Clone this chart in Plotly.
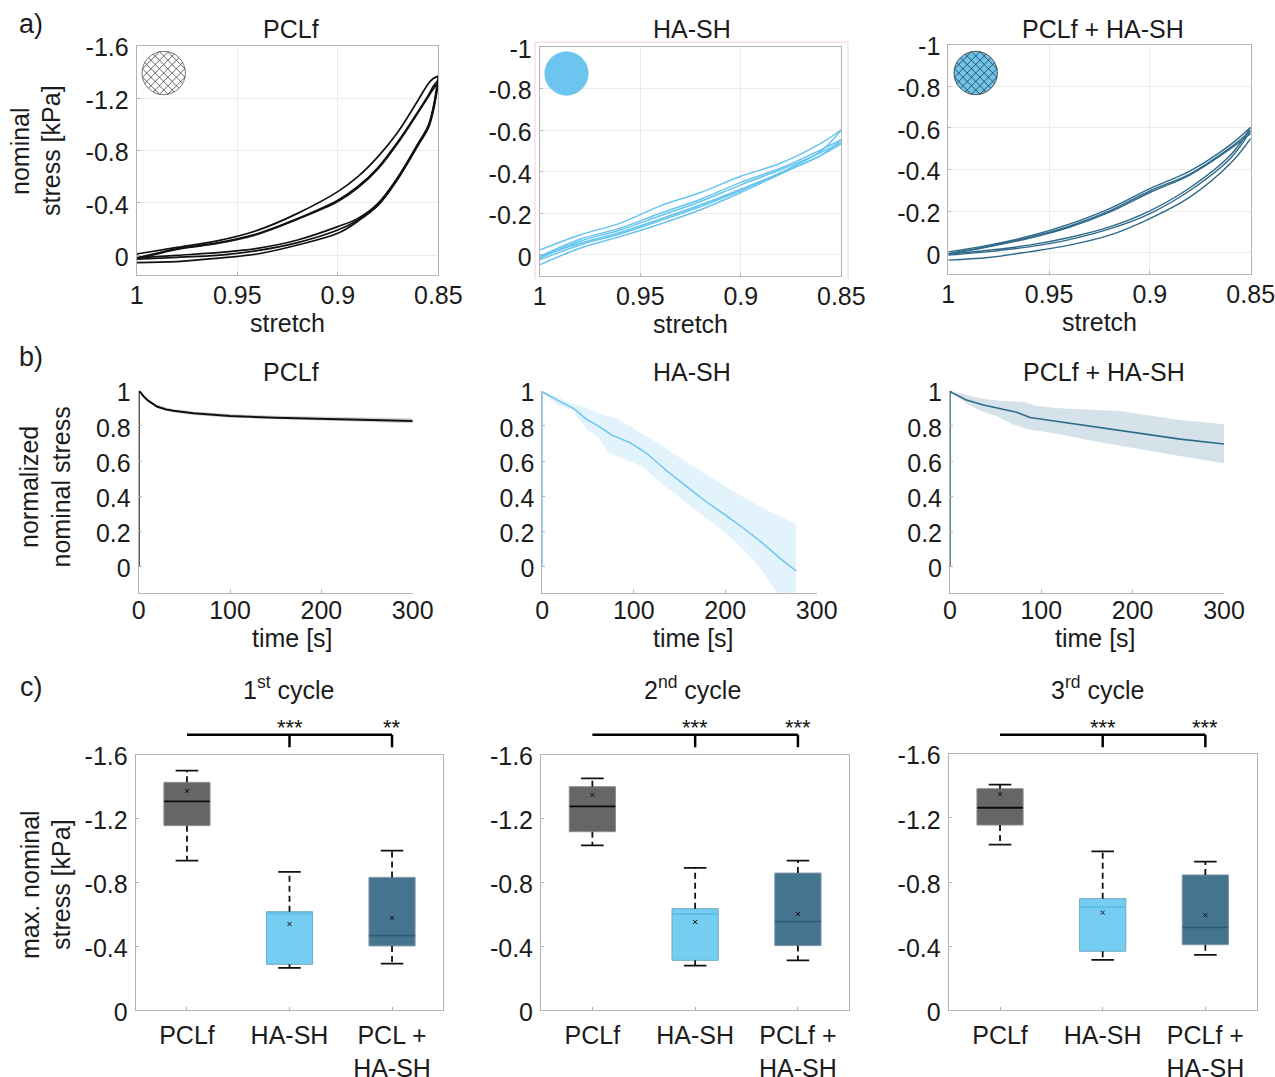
import math
import plotly.graph_objects as go

W, H = 1275, 1077

# ---------- row a: stretch / nominal stress loops ----------
STRETCH_A1 = [1, .98, .96, .94, .92, .90, .89, .88, .87, .86, .855, .8525, .85]
PCL_LOAD1 = [-.01, -.06, -.11, -.19, -.32, -.486, -.60, -.753, -.943, -1.185, -1.31, -1.35, -1.368]
PCL_LOAD2 = [.02, -.05, -.095, -.165, -.28, -.42, -.525, -.67, -.87, -1.10, -1.22, -1.29, -1.335]
PCL_LOAD3 = [.03, -.045, -.09, -.16, -.275, -.41, -.515, -.66, -.86, -1.09, -1.21, -1.27, -1.32]
PCL_UNLOAD1 = [.02, 0, -.02, -.053, -.117, -.219, -.282, -.397, -.60, -.855, -.99, -1.13, -1.368]
PCL_UNLOAD2 = [.03, .015, 0, -.036, -.097, -.193, -.27, -.385, -.59, -.85, -.98, -1.12, -1.335]
PCL_UNLOAD3 = [.056, .048, .023, -.01, -.079, -.168, -.26, -.38, -.585, -.84, -.97, -1.10, -1.32]

STRETCH_A2 = [1, .98, .96, .94, .92, .90, .88, .86, .85]
HA_LOAD1 = [-.024, -.096, -.153, -.236, -.30, -.378, -.442, -.538, -.602]
HA_LOAD2 = [.008, -.075, -.129, -.20, -.268, -.349, -.418, -.506, -.554]
HA_LOAD3 = [.016, -.066, -.12, -.188, -.257, -.337, -.41, -.493, -.541]
HA_UNLOAD1 = [.008, -.056, -.108, -.173, -.241, -.316, -.397, -.50, -.602]
HA_UNLOAD2 = [.024, -.048, -.101, -.165, -.233, -.31, -.394, -.48, -.554]
HA_UNLOAD3 = [.048, -.032, -.088, -.149, -.217, -.30, -.39, -.479, -.535]

STRETCH_A3 = [1, .98, .96, .94, .92, .90, .88, .86, .85]
MIX_LOAD1 = [-.005, -.037, -.08, -.138, -.213, -.309, -.394, -.52, -.603]
MIX_LOAD2 = [.003, -.032, -.074, -.128, -.202, -.298, -.38, -.507, -.587]
MIX_LOAD3 = [.006, -.029, -.07, -.123, -.196, -.29, -.375, -.50, -.574]
MIX_UNLOAD1 = [.006, -.013, -.037, -.074, -.125, -.202, -.314, -.47, -.603]
MIX_UNLOAD2 = [.011, -.006, -.029, -.064, -.115, -.189, -.301, -.455, -.587]
MIX_UNLOAD3 = [.035, .022, -.005, -.037, -.085, -.165, -.269, -.43, -.55]

# ---------- row b: relaxation ----------
PCL_T = [0, 0, 3, 5, 10, 15, 20, 30, 38, 60, 80, 100, 150, 200, 250, 300]
PCL_V = [0, 1, .985, .97, .945, .925, .91, .893, .886, .872, .862, .856, .846, .84, .834, .828]
PCL_BAND_T = [0, 10, 20, 38, 60, 100, 150, 200, 250, 300]
PCL_UP = [1, .952, .918, .896, .882, .868, .858, .852, .847, .843]
PCL_LO = [1, .938, .902, .876, .862, .846, .836, .83, .823, .815]

HA_T = [0, 0, 17.5, 34, 48.5, 61, 76, 96, 114, 136, 158, 180, 200, 220, 242, 260, 277.5]
HA_V = [0, .994, .943, .90, .837, .80, .748, .705, .644, .545, .455, .366, .294, .218, .129, .047, -.025]
HA_UP_T = [0, 17.5, 34, 48.5, 63, 81, 100, 121, 143, 169, 200, 224, 249, 277.5]
HA_UP = [1, .962, .924, .905, .867, .843, .786, .72, .644, .559, .455, .383, .3125, .242]
HA_LO_T = [0, 17.5, 34, 48.5, 61, 72, 92, 110, 132, 158, 187, 209, 231, 245, 256, 277.5]
HA_LO = [.989, .919, .886, .777, .739, .648, .606, .568, .464, .36, .246, .152, .038, -.057, -.142, -.34]

MIX_T = [0, 0, 2, 18, 36.5, 55, 73, 87.6, 102, 131, 160.6, 190, 219, 252, 300]
MIX_V = [0, 1, .989, .947, .919, .896, .877, .848, .837, .814, .795, .773, .748, .725, .697]
MIX_UP_T = [0, 18, 36.5, 55, 80, 95, 120, 160.6, 186, 215, 252, 300]
MIX_UP = [1, .979, .953, .943, .9375, .913, .90, .89, .884, .862, .833, .809]
MIX_LO_T = [0, 18, 33, 51, 69, 84, 120, 160.6, 197, 245, 300]
MIX_LO = [.994, .928, .886, .856, .81, .782, .752, .71, .676, .634, .587]

# ---------- row c: box statistics (columns PCLf, HA-SH, blend); stresses are negative ----------
C1_LOWER = [-1.50, -.866, -1.0]
C1_Q1 = [-1.427, -.617, -.832]
C1_MEDIAN = [-1.308, -.607, -.467]
C1_Q3 = [-1.156, -.288, -.403]
C1_UPPER = [-.937, -.265, -.292]
C1_MEAN = [-1.373, -.54, -.578]

C2_LOWER = [-1.452, -.891, -.937]
C2_Q1 = [-1.40, -.636, -.859]
C2_MEDIAN = [-1.277, -.603, -.555]
C2_Q3 = [-1.118, -.313, -.405]
C2_UPPER = [-1.033, -.28, -.313]
C2_MEAN = [-1.348, -.553, -.603]

C3_LOWER = [-1.407, -.991, -.927]
C3_Q1 = [-1.382, -.696, -.844]
C3_MEDIAN = [-1.263, -.644, -.517]
C3_Q3 = [-1.155, -.368, -.409]
C3_UPPER = [-1.033, -.314, -.345]
C3_MEAN = [-1.348, -.609, -.592]

C1_LABELS = ["PCLf", "HA-SH", "PCL +<br>HA-SH"]
C23_LABELS = ["PCLf", "HA-SH", "PCLf +<br>HA-SH"]
SIG_C1 = ["***", "**"]
SIG_C23 = ["***", "***"]

BLACK = "#111111"
BLUE = "#66C4EE"
DARK = "#2F6A8A"
TXT = "#1c1c1c"
AXC = "#b4b4b4"
FS = 25
FONT = "Liberation Sans, Arial, sans-serif"

fig = go.Figure()


def px(x):
    return x / W


def py(y):
    return 1 - y / H


def axes(n, x0, x1, ytop, ybot, xrange, yrange, xticks, xtext, yticks, ytext, box, grid, standoff_x, xtitle=None, title_standoff=0):
    sfx = "" if n == 1 else str(n)
    common = dict(
        showline=True, linecolor=AXC, linewidth=1, ticks="inside", ticklen=3, tickcolor=AXC,
        showgrid=grid, gridcolor="#ececec", gridwidth=1, zeroline=False,
        mirror=box, tickfont=dict(family=FONT, size=FS, color=TXT),
    )
    xa = dict(common, domain=[px(x0), px(x1)], range=xrange, tickmode="array", tickvals=xticks, ticktext=xtext,
              anchor="y" + sfx, ticklabelstandoff=standoff_x, tickangle=0, ticklabeloverflow="allow")
    if xtitle:
        xa["title"] = dict(text=xtitle, standoff=title_standoff, font=dict(family=FONT, size=FS, color=TXT))
    shift = 2 if yrange[0] < yrange[1] else -2
    ya = dict(common, domain=[py(ybot), py(ytop)], range=yrange, tickmode="array", tickvals=yticks, ticktext=ytext,
              anchor="x" + sfx, ticklabelstandoff=2, ticklabelshift=shift, ticklabeloverflow="allow")
    fig.update_layout({"xaxis" + sfx: xa, "yaxis" + sfx: ya})


def label(x, y, text, size=FS, angle=0):
    fig.add_annotation(xref="paper", yref="paper", x=px(x), y=py(y), text=text, showarrow=False, textangle=angle,
                       xanchor="center", yanchor="middle", font=dict(family=FONT, size=size, color=TXT))


def line(n, xs, ys, color, width=1.6, smooth=True, dash=None):
    sfx = "" if n == 1 else str(n)
    ln = dict(color=color, width=width)
    if smooth:
        ln.update(shape="spline", smoothing=1.0)
    if dash:
        ln["dash"] = dash
    fig.add_trace(go.Scatter(x=xs, y=ys, mode="lines", line=ln, xaxis="x" + sfx, yaxis="y" + sfx,
                             showlegend=False, hoverinfo="skip"))


def band(n, t_up, up, t_lo, lo, color):
    sfx = "" if n == 1 else str(n)
    fig.add_trace(go.Scatter(x=list(t_up) + list(t_lo)[::-1], y=list(up) + list(lo)[::-1], mode="lines",
                             fill="toself", fillcolor=color, line=dict(width=0), xaxis="x" + sfx, yaxis="y" + sfx,
                             showlegend=False, hoverinfo="skip"))


# ----- row a -----
A_X = [1, .95, .9, .85]
A_XT = ["1", "0.95", "0.9", "0.85"]
axes(1, 136.7, 438.3, 45.7, 274.7, [1, .85], [.148, -1.6], A_X, A_XT, [0, -.4, -.8, -1.2, -1.6],
     ["0", "-0.4", "-0.8", "-1.2", "-1.6"], True, True, -2, "stretch", 2)
axes(2, 539.7, 841.3, 47, 275.7, [1, .85], [.1, -1], A_X, A_XT, [0, -.2, -.4, -.6, -.8, -1],
     ["0", "-0.2", "-0.4", "-0.6", "-0.8", "-1"], True, True, -2, "stretch", 2)
axes(3, 948.3, 1250.7, 44.7, 273.7, [1, .85], [.1, -1], A_X, A_XT, [0, -.2, -.4, -.6, -.8, -1],
     ["0", "-0.2", "-0.4", "-0.6", "-0.8", "-1"], True, True, -2, "stretch", 2)

for ys in (PCL_LOAD1, PCL_LOAD2, PCL_LOAD3, PCL_UNLOAD1, PCL_UNLOAD2, PCL_UNLOAD3):
    line(1, STRETCH_A1, ys, BLACK, 1.7)
for ys in (HA_LOAD1, HA_LOAD2, HA_LOAD3, HA_UNLOAD1, HA_UNLOAD2, HA_UNLOAD3):
    line(2, STRETCH_A2, ys, BLUE, 1.5)
for ys in (MIX_LOAD1, MIX_LOAD2, MIX_LOAD3, MIX_UNLOAD1, MIX_UNLOAD2, MIX_UNLOAD3):
    line(3, STRETCH_A3, ys, DARK, 1.4)

# ----- row b -----
B_Y = [0, .2, .4, .6, .8, 1]
B_YT = ["0", "0.2", "0.4", "0.6", "0.8", "1"]
B_X = [0, 100, 200, 300]
B_XT = ["0", "100", "200", "300"]
for n, x0, x1 in ((4, 138.7, 412.7), (5, 542.3, 816.7), (6, 950, 1224)):
    axes(n, x0, x1, 390.7, 592.7, [0, 300], [-.148, 1], B_X, B_XT, B_Y, B_YT, False, False, -5)

band(4, PCL_BAND_T, PCL_UP, PCL_BAND_T, PCL_LO, "#d4d4d4")
line(4, PCL_T, PCL_V, BLACK, 2, smooth=False)
band(5, HA_UP_T, HA_UP, HA_LO_T, HA_LO, "#E2F3FB")
line(5, HA_T, HA_V, BLUE, 1.4, smooth=False)
band(6, MIX_UP_T, MIX_UP, MIX_LO_T, MIX_LO, "#D5E2EA")
line(6, MIX_T, MIX_V, DARK, 1.6, smooth=False)

# ----- row c -----
C_POS = [1, 2, 3]
C_Y = [0, -.4, -.8, -1.2, -1.6]
C_YT = ["0", "-0.4", "-0.8", "-1.2", "-1.6"]
BOX_FILL = ["#666666", "#76CDF2", "#45748E"]
BOX_EDGE = ["#8f8f8f", "#6fa9c4", "#7f95a3"]
MED = ["#0a0a0a", "#5cbde8", "#2c5a76"]
panels = [
    (7, 135.7, 443.3, 754.7, C1_LABELS, C1_LOWER, C1_Q1, C1_MEDIAN, C1_Q3, C1_UPPER, C1_MEAN, SIG_C1),
    (8, 541.0, 849.3, 754.7, C23_LABELS, C2_LOWER, C2_Q1, C2_MEDIAN, C2_Q3, C2_UPPER, C2_MEAN, SIG_C23),
    (9, 948.7, 1256.7, 753.7, C23_LABELS, C3_LOWER, C3_Q1, C3_MEDIAN, C3_Q3, C3_UPPER, C3_MEAN, SIG_C23),
]
for n, x0, x1, ytop, labs, lower, q1, med, q3, upper, mean, sig in panels:
    axes(n, x0, x1, ytop, 1010.3, [.5, 3.5], [0, -1.6], C_POS, labs, C_Y, C_YT, True, False, 3)
    sfx = str(n)
    for i, c in enumerate(C_POS):
        line(n, [c, c], [q1[i], lower[i]], BLACK, 1.8, smooth=False, dash="6px,4px")
        line(n, [c, c], [q3[i], upper[i]], BLACK, 1.8, smooth=False, dash="6px,4px")
        line(n, [c - .11, c + .11], [lower[i], lower[i]], BLACK, 1.8, smooth=False)
        line(n, [c - .11, c + .11], [upper[i], upper[i]], BLACK, 1.8, smooth=False)
        fig.add_trace(go.Box(x=[c], q1=[q1[i]], median=[med[i]], q3=[q3[i]], lowerfence=[q1[i]], upperfence=[q3[i]],
                             orientation="v", width=.45, whiskerwidth=0, fillcolor=BOX_FILL[i],
                             line=dict(color=BOX_EDGE[i], width=1),
                             boxpoints=False, xaxis="x" + sfx, yaxis="y" + sfx, showlegend=False, hoverinfo="skip"))
        line(n, [c - .222, c + .222], [med[i], med[i]], MED[i], 1.8, smooth=False)
    fig.add_trace(go.Scatter(x=C_POS, y=mean, mode="markers", xaxis="x" + sfx, yaxis="y" + sfx, showlegend=False,
                             hoverinfo="skip", marker=dict(symbol="x-thin", size=4, line=dict(color="#111", width=1))))
    # significance bracket
    top = py(734.7)
    tip = py(747.3)
    fig.add_shape(type="line", xref="x" + sfx, yref="paper", x0=1, x1=3, y0=top, y1=top, line=dict(color="#000", width=2.5))
    for c, s in zip(C_POS[1:], sig):
        fig.add_shape(type="line", xref="x" + sfx, yref="paper", x0=c, x1=c, y0=top, y1=tip, line=dict(color="#000", width=2.5))
        fig.add_annotation(xref="x" + sfx, yref="paper", x=c, y=py(727.5), text=s, showarrow=False, xanchor="center",
                           yanchor="middle", font=dict(family=FONT, size=22, color="#111"))

# ----- text -----
label(31, 24, "a)", 27)
label(31, 357, "b)", 27)
label(31, 687, "c)", 27)
for x, y, t in ((290.7, 29, "PCLf"), (692, 29, "HA-SH"), (1103, 29, "PCLf + HA-SH"),
                (290.7, 372.3, "PCLf"), (692, 372.3, "HA-SH"), (1104, 372.3, "PCLf + HA-SH"),
                (288, 688, "1<sup>st</sup> cycle"), (692, 688, "2<sup>nd</sup> cycle"), (1097, 688, "3<sup>rd</sup> cycle"),
                (292.7, 638, "time [s]"), (693, 638, "time [s]"), (1095, 638, "time [s]")):
    label(x, y, t)
label(20, 151, "nominal", angle=-90)
label(51, 151, "stress [kPa]", angle=-90)
label(29, 487, "normalized", angle=-90)
label(60.5, 487, "nominal stress", angle=-90)
label(30, 885, "max. nominal", angle=-90)
label(61, 885, "stress [kPa]", angle=-90)


# ----- circles and frame -----
def hatch_path(cx, cy, r, step):
    """Diagonal cross-hatch chords clipped to a circle, in paper coordinates."""
    parts = []
    k = -int(r * 1.414 / step)
    while k * step < r * 1.414:
        d = k * step
        if abs(d) < r:
            half = math.sqrt(r * r - d * d)
            for sx in (1, -1):
                nx, ny = sx * 0.7071, 0.7071
                tx, ty = -ny, nx
                ax, ay = cx + nx * d + tx * half, cy + ny * d + ty * half
                bx, by = cx + nx * d - tx * half, cy + ny * d - ty * half
                parts.append(f"M {px(ax):.5f} {py(ay):.5f} L {px(bx):.5f} {py(by):.5f}")
        k += 1
    return " ".join(parts)


def circle(cx, cy, r, fill, edge):
    fig.add_shape(type="circle", xref="paper", yref="paper", x0=px(cx - r), x1=px(cx + r), y0=py(cy + r), y1=py(cy - r),
                  fillcolor=fill, line=dict(color=edge, width=0.8), layer="above")


circle(163.7, 73, 21.7, "white", "#555")
fig.add_shape(type="path", xref="paper", yref="paper", path=hatch_path(163.7, 73, 21.7, 6),
              line=dict(color="#444", width=0.8), layer="above")
circle(566.5, 73.5, 21.7, "#6CC5EE", "#6CC5EE")
circle(975.7, 73, 21.7, "#6CC5EE", "#333")
fig.add_shape(type="path", xref="paper", yref="paper", path=hatch_path(975.7, 73, 21.7, 6),
              line=dict(color="#333", width=0.8), layer="above")
fig.add_shape(type="path", xref="paper", yref="paper", line=dict(color="#FBDDE6", width=1.5),
              path=f"M {px(535):.5f} {py(279):.5f} L {px(535):.5f} {py(42.3):.5f} L {px(848):.5f} {py(42.3):.5f} L {px(848):.5f} {py(279):.5f}")

fig.update_layout(width=W, height=H, margin=dict(l=0, r=0, t=0, b=0, autoexpand=False), paper_bgcolor="white",
                  plot_bgcolor="white", showlegend=False, font=dict(family=FONT, size=FS, color=TXT), boxmode="overlay")

fig.write_html("out.html", config={"displayModeBar": False},
               post_script="document.body.style.margin='0';document.documentElement.style.overflow='hidden';window.dispatchEvent(new Event('resize'));")
